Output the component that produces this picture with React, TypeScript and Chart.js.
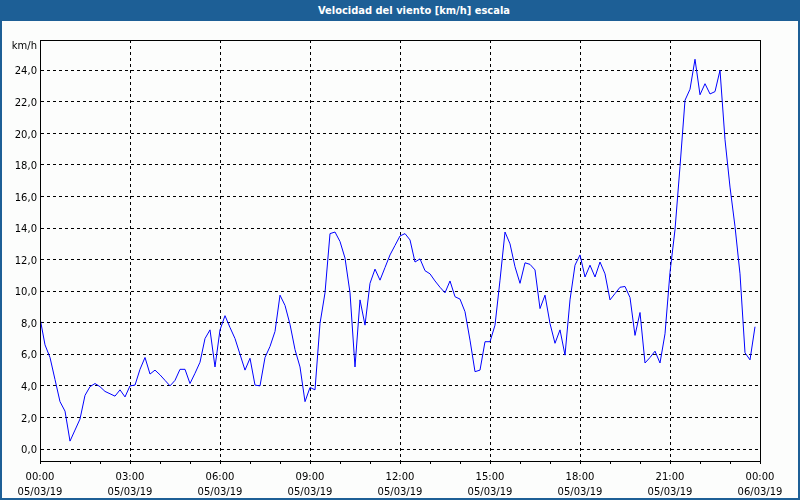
import React, { useEffect, useRef } from 'react';
import { Chart, registerables } from 'chart.js';

Chart.register(...registerables);

const TITLE = 'Velocidad del viento [km/h] escala';
const UNIT = 'km/h';
const STEP_MINUTES = 10;

// wind speed every 10 minutes from 05/03/19 00:00
const windSpeed = [
  8.3, 6.6, 5.8, 4.4, 3.0, 2.4, 0.5, 1.2, 1.9, 3.4,
  3.95, 4.15, 3.95, 3.65, 3.5, 3.35, 3.75, 3.3, 4.0, 4.05,
  5.05, 5.8, 4.75, 5.0, 4.7, 4.35, 4.0, 4.35, 5.05, 5.05,
  4.15, 4.8, 5.5, 7.0, 7.55, 5.2, 7.55, 8.45, 7.7, 7.0,
  6.0, 5.0, 5.75, 4.05, 4.0, 5.8, 6.5, 7.45, 9.75, 9.1,
  7.9, 6.3, 5.2, 3.0, 3.9, 3.75, 7.95, 9.9, 13.65, 13.75,
  13.15, 12.1, 9.9, 5.2, 9.45, 7.85, 10.5, 11.4, 10.7, 11.5,
  12.3, 12.9, 13.5, 13.65, 13.25, 11.85, 12.05, 11.3, 11.1, 10.65,
  10.25, 9.9, 10.65, 9.65, 9.5, 8.7, 6.9, 4.9, 5.0, 6.8,
  6.8, 7.85, 10.7, 13.75, 13.0, 11.55, 10.5, 11.8, 11.7, 11.35,
  8.9, 9.75, 7.95, 6.7, 7.55, 5.95, 9.45, 11.65, 12.3, 10.9,
  11.65, 10.9, 11.85, 11.1, 9.45, 9.85, 10.25, 10.3, 9.6, 7.2,
  8.65, 5.45, 5.8, 6.2, 5.45, 7.3, 11.2, 13.9, 17.9, 22.1,
  22.8, 24.7, 22.45, 23.15, 22.5, 22.65, 24.0, 19.6, 16.6, 14.1,
  11.1, 6.1, 5.65, 7.75,
];

// x tick positions in minutes (hourly), labelled every 3 hours
const hourTicks = [0, 60, 120, 180, 240, 300, 360, 420, 480, 540, 600, 660, 720, 780, 840, 900, 960, 1020, 1080, 1140, 1200, 1260, 1320, 1380, 1440];
const majorTicks = [0, 180, 360, 540, 720, 900, 1080, 1260, 1440];
const timeLabels = ['00:00', '03:00', '06:00', '09:00', '12:00', '15:00', '18:00', '21:00', '00:00'];
const dateLabels = ['05/03/19', '05/03/19', '05/03/19', '05/03/19', '05/03/19', '05/03/19', '05/03/19', '05/03/19', '06/03/19'];
const yTicks = [0, 2, 4, 6, 8, 10, 12, 14, 16, 18, 20, 22, 24];

const FONT = 'DejaVu Sans';
const BLUE_FRAME = '#1d5f96';

export default function App() {
  const canvasRef = useRef<HTMLCanvasElement | null>(null);

  useEffect(() => {
    const canvas = canvasRef.current;
    if (!canvas) return;

    const framePlugin = {
      id: 'frame',
      afterDraw(chart: any) {
        const { ctx, chartArea } = chart;
        const l = Math.round(chartArea.left) + 0.5;
        const t = Math.round(chartArea.top) + 0.5;
        const r = Math.round(chartArea.right) + 0.5;
        const b = Math.round(chartArea.bottom) + 0.5;
        ctx.save();
        ctx.strokeStyle = '#000';
        ctx.lineWidth = 1;
        ctx.setLineDash([]);
        ctx.strokeRect(l, t, r - l, b - t);
        ctx.fillStyle = '#000';
        ctx.font = `10px "${FONT}"`;
        ctx.textAlign = 'right';
        ctx.textBaseline = 'middle';
        ctx.fillText(UNIT, chartArea.left - 3, chartArea.top + 6.5);
        ctx.restore();
      },
    };

    const chart = new Chart(canvas, {
      type: 'line',
      data: {
        datasets: [
          {
            data: windSpeed.map((v, i) => ({ x: i * STEP_MINUTES, y: v })),
            borderColor: '#0000ff',
            borderWidth: 1,
            pointRadius: 0,
            tension: 0,
            fill: false,
          },
        ],
      },
      options: {
        responsive: false,
        animation: false,
        events: [],
        layout: { padding: { left: 0, top: 19, right: 38, bottom: 0 } },
        plugins: { legend: { display: false }, tooltip: { enabled: false }, title: { display: false } },
        scales: {
          x: {
            type: 'linear',
            min: 0,
            max: 1440,
            afterBuildTicks: (s: any) => {
              s.ticks = hourTicks.map((v) => ({ value: v }));
            },
            afterFit: (s: any) => {
              s.height = 37;
            },
            grid: {
              color: (c: any) => {
                const v = c.tick ? c.tick.value : -1;
                return majorTicks.includes(v) && v !== 0 && v !== 1440 ? '#000' : 'rgba(0,0,0,0)';
              },
              tickColor: '#000',
              tickLength: 3,
              tickWidth: 1,
              tickBorderDash: [],
              drawTicks: true,
              lineWidth: 1,
            },
            border: { display: true, color: '#000', width: 1, dash: [3, 3] },
            ticks: {
              autoSkip: false,
              maxRotation: 0,
              minRotation: 0,
              padding: 6,
              color: '#000',
              font: { family: FONT, size: 10, lineHeight: 1.5 },
              callback: (v: any) => {
                const k = majorTicks.indexOf(v);
                return k >= 0 ? [timeLabels[k], dateLabels[k]] : '';
              },
            },
          },
          y: {
            type: 'linear',
            min: -0.76,
            max: 25.92,
            afterBuildTicks: (s: any) => {
              s.ticks = yTicks.map((v) => ({ value: v }));
            },
            afterFit: (s: any) => {
              s.width = 38;
            },
            grid: { color: '#000', drawTicks: false, lineWidth: 1 },
            border: { display: true, color: '#000', width: 1, dash: [3, 3] },
            ticks: {
              padding: 3,
              labelOffset: 1.5,
              color: '#000',
              font: { family: FONT, size: 10 },
              callback: (v: any) => Number(v).toFixed(1).replace('.', ','),
            },
          },
        },
      },
      plugins: [framePlugin],
    });

    return () => chart.destroy();
  }, []);

  return (
    <div
      style={{
        position: 'fixed',
        left: 0,
        top: 0,
        width: 800,
        height: 500,
        boxSizing: 'border-box',
        borderLeft: `2px solid ${BLUE_FRAME}`,
        borderRight: `2px solid ${BLUE_FRAME}`,
        borderBottom: `2px solid ${BLUE_FRAME}`,
        background: '#fcfdfc',
        overflow: 'hidden',
      }}
    >
      <div
        style={{
          height: 21,
          background: BLUE_FRAME,
          color: '#fff',
          fontFamily: '"DejaVu Sans Condensed", "DejaVu Sans", sans-serif',
          fontStretch: 'condensed',
          fontWeight: 'bold',
          fontSize: 11,
          lineHeight: '21px',
          position: 'relative',
          marginLeft: -2,
          marginRight: -2,
        }}
      >
        <span style={{ position: 'absolute', left: 318, top: 0, whiteSpace: 'nowrap' }}>{TITLE}</span>
      </div>
      <canvas ref={canvasRef} width={796} height={477} style={{ display: 'block', width: 796, height: 477 }} />
    </div>
  );
}
